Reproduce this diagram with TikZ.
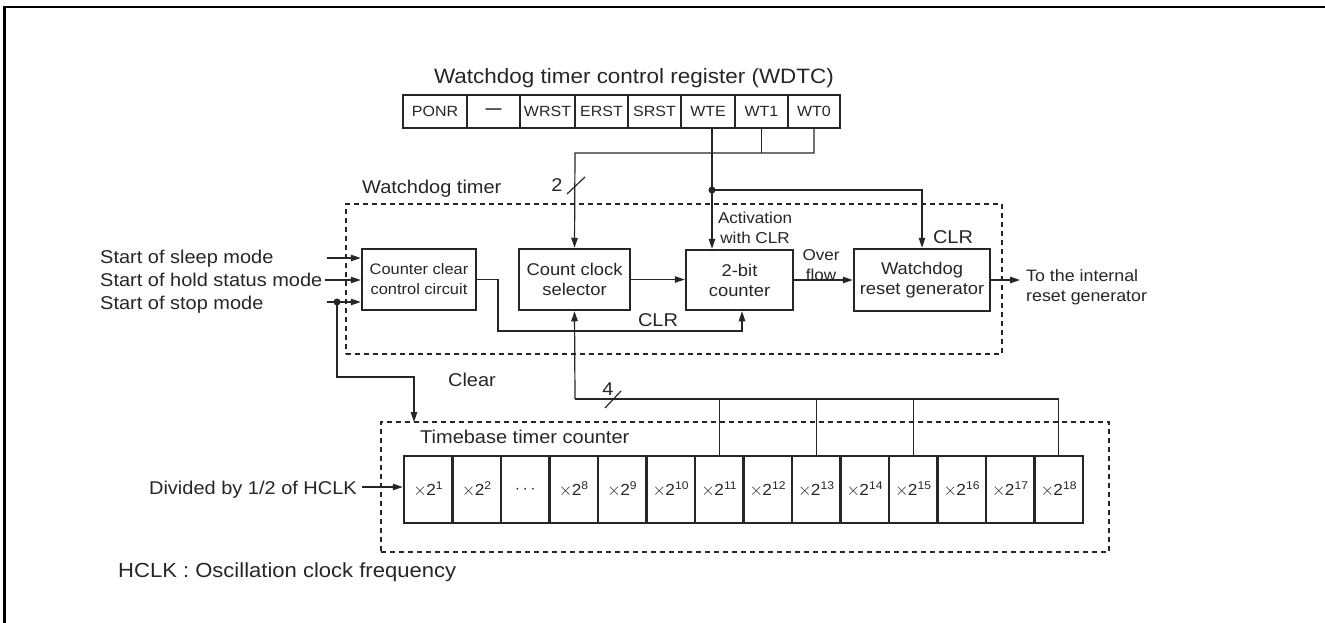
\documentclass[tikz,border=0pt]{standalone}
\usepackage{fontspec}
\setmainfont{Liberation Sans}[FakeStretch=1.08]
\usetikzlibrary{arrows.meta}
\newcommand{\fside}{\fontsize{18.5}{23}\selectfont}
\newcommand{\fbig}{\fontsize{20.4}{24}\selectfont}
\newcommand{\ftitle}{\fontsize{20.8}{24}\selectfont}
\newcommand{\freg}{\fontsize{14.8}{17}\selectfont}
\newcommand{\fblk}{\fontsize{17}{20}\selectfont}
\newcommand{\fccc}{\fontsize{15.2}{20}\selectfont}
\newcommand{\fsml}{\fontsize{15.8}{19.5}\selectfont}
\newcommand{\fout}{\fontsize{16.5}{20}\selectfont}
\newcommand{\fcell}{\fontsize{16}{18}\selectfont}
\begin{document}
\begin{tikzpicture}[x=1pt,y=-1pt,color=black!85,
  conn/.style={line width=1.2pt},
  arr/.style={conn,-{Triangle[length=10pt,width=6.5pt]}},
  blk/.style={draw,line width=2.5pt,inner sep=0pt,align=center,font=\fblk},
  rcell/.style={draw,line width=2.2pt,minimum height=33pt,inner sep=0pt,font=\freg},
  tcell/.style={draw,line width=2.5pt,minimum width=48.5pt,minimum height=67pt,inner sep=0pt,font=\fcell},
  dbox/.style={draw,line width=1.2pt,dash pattern=on 5pt off 4pt,inner sep=0pt},
  lab/.style={font=\fside,inner sep=0pt}]
\useasboundingbox (0,0) rectangle (1325,622);
% outer frame
\draw[line width=2.7pt,black] (4.5,640) -- (4.5,7) -- (1340,7);
% dashed boxes
\node[dbox,minimum width=656pt,minimum height=150pt] (wd) at (674,279) {};
\node[dbox,minimum width=728pt,minimum height=130pt] (tb) at (745,487) {};
% register
\node[font=\ftitle,inner sep=0pt,anchor=base] (title) at (634,83) {Watchdog timer control register (WDTC)};
\node[rcell,minimum width=64pt] (r1) at (435,111.5) {PONR};
\node[rcell,minimum width=53pt] (r2) at (493.5,111.5) {\bfseries —};
\node[rcell,minimum width=55pt] (r3) at (547.5,111.5) {WRST};
\node[rcell,minimum width=53pt] (r4) at (601.5,111.5) {ERST};
\node[rcell,minimum width=53pt] (r5) at (654.5,111.5) {SRST};
\node[rcell,minimum width=54pt] (r6) at (708,111.5) {WTE};
\node[rcell,minimum width=53pt] (r7) at (761.5,111.5) {WT1};
\node[rcell,minimum width=52pt] (r8) at (814,111.5) {WT0};
% blocks
\node[blk,font=\fccc,minimum width=114pt,minimum height=61pt] (ccc) at (419,279.5) {Counter clear\\control circuit};
\node[blk,minimum width=111pt,minimum height=61pt] (ccs) at (574.5,279.5) {Count clock\\selector};
\node[blk,minimum width=107pt,minimum height=60pt] (bc) at (739.5,280) {2-bit\\counter};
\node[blk,minimum width=136pt,minimum height=62pt] (wrg) at (922,280) {Watchdog\\reset generator};
% labels
\node[lab,anchor=base west] (wdlab) at (362,193) {Watchdog timer};
\node[font=\fsml,align=center,inner sep=0pt] (act) at (755,228) {Activation\\with CLR};
\node[lab,anchor=base] (clr1) at (953,243) {CLR};
\node[lab,anchor=base] (clr2) at (658,326) {CLR};
\node[font=\fsml,align=center,inner sep=0pt] (ovf) at (821,265) {Over\\flow};
\node[font=\fout,align=left,anchor=west,inner sep=0pt] (out) at (1026,287) {To the internal\\reset generator};
\node[lab,anchor=base west] (in1) at (100,263) {Start of sleep mode};
\node[lab,anchor=base west] (in2) at (100,286) {Start of hold status mode};
\node[lab,anchor=base west] (in3) at (100,309) {Start of stop mode};
\node[lab,anchor=base] (clearlab) at (472,386) {Clear};
\node[lab,anchor=base] (two) at (557,191) {2};
\node[lab,anchor=base] (four) at (608,395) {4};
\node[lab,anchor=base west] (tblab) at (420,443) {Timebase timer counter};
\node[lab,anchor=base east] (dvlab) at (357,494) {Divided by 1/2 of HCLK};
\node[font=\fbig,inner sep=0pt,anchor=base west] (hclk) at (118,577) {HCLK : Oscillation clock frequency};
% timebase cells
\foreach [count=\i] \e in {1,2,0,8,9,10,11,12,13,14,15,16,17,18} {
  \node[tcell] (t\i) at ({404+48.5*(\i-0.5)},489.5) {\ifnum\e=0 $\cdots$\else $\times$\kern-0.5pt2\textsuperscript{\e}\fi};
}
% register connections
\coordinate (b2) at (575,153);
\coordinate (dot) at (712,190);
\draw[conn] (r7.south) -- (r7.south |- b2);
\draw[arr] (r8.south) |- (b2) -- (ccs.north);
\draw[arr] ([xshift=4pt]r6.south) -- (dot) -- (dot |- bc.north);
\draw[arr] (dot) -| (wrg.north);
\fill (dot) circle (3.5pt);
\draw[conn] (567,194) -- (585,177);
% inputs
\coordinate (s1) at (327,258);
\coordinate (s2) at (325,280);
\coordinate (s3) at (327,302);
\coordinate (dotb) at (337,302);
\coordinate (clrturn) at (337,377);
\coordinate (tbin) at (414,422);
\draw[arr] (s1) -- (s1 -| ccc.west);
\draw[arr] (s2) -- (s2 -| ccc.west);
\draw[arr] (s3) -- (s3 -| ccc.west);
\draw[arr] (dotb) -- (clrturn) -| (tbin);
\fill (dotb) circle (3.5pt);
% internal flow
\coordinate (cl) at (498,331);
\draw[arr] (ccc.east) -| (cl) -| ([xshift=2.5pt]bc.south);
\draw[arr] (ccs.east) -- (ccs.east -| bc.west);
\draw[arr] (bc.east) -- (bc.east -| wrg.west);
\coordinate (outc) at (1020,280);
\draw[arr] (wrg.east) -- (outc);
% 4-bit bus
\coordinate (b4) at (575,399);
\draw[arr] (b4) -- (ccs.south);
\draw[conn] (b4) -| (t14.north);
\foreach \k in {7,9,11} \draw[conn] (t\k.north |- b4) -- (t\k.north);
\draw[conn] (605,408) -- (621,391);
% divided input
\coordinate (dvs) at (362,487);
\draw[arr] (dvs) -- (dvs -| t1.west);
\end{tikzpicture}
\end{document}
